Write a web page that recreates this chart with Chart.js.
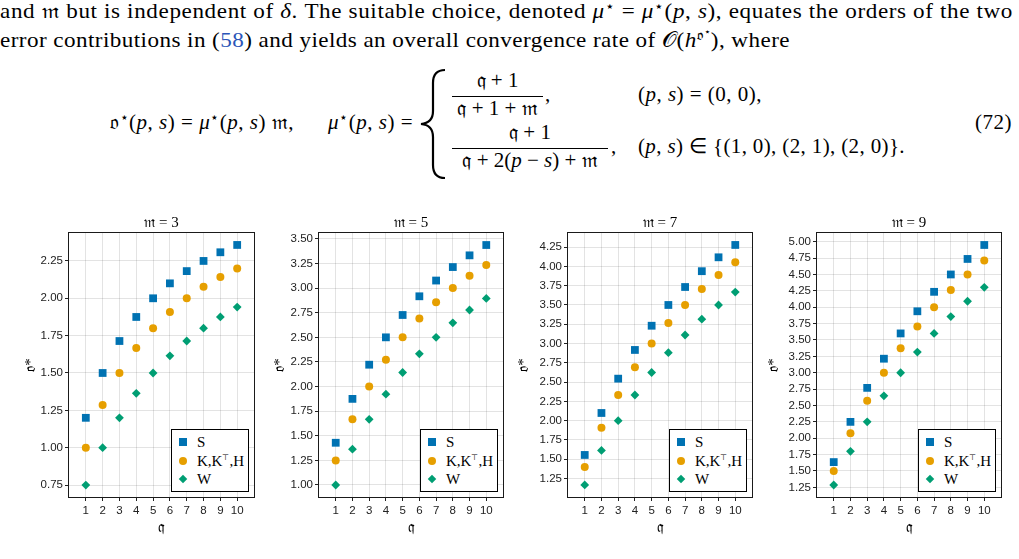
<!DOCTYPE html>
<html>
<head>
<meta charset="utf-8">
<script src="https://cdn.jsdelivr.net/npm/chart.js@4.4.1/dist/chart.umd.min.js"></script>
<style>
  html, body { margin: 0; padding: 0; background: #fff; }
  body { width: 1019px; height: 559px; position: relative; overflow: hidden; }
  .t { position: absolute; white-space: nowrap; font-family: "Liberation Serif", serif; font-size: 21px; line-height: 24px; color: #000; transform-origin: 0 0; }
  .t i { font-style: italic; }
  .t sup { font-size: 0.68em; line-height: 0; vertical-align: 0.5em; }
  .link { color: #2b55b8; }
  .bar { position: absolute; height: 1px; background: #000; }
  canvas.c { position: absolute; }
  .legend { position: absolute; box-sizing: border-box; width: 78px; height: 63px; border: 1px solid #000; background: #fff; font-family: "Liberation Serif", serif; font-size: 15px; color: #000; }
  .legend .row { position: absolute; left: 25px; height: 18px; line-height: 18px; white-space: nowrap; }
  .legend .row sup { font-size: 0.55em; line-height: 0; vertical-align: 0.7em; }
  .legend .mk { position: absolute; }
  .mk.rect { width: 8px; height: 8px; }
  .mk.circle { width: 8px; height: 8px; border-radius: 50%; }
  .mk.rectRot { width: 6px; height: 6px; transform: rotate(45deg); }
</style>
</head>
<body>

<!-- running text -->
<div class="t" data-x="0" data-b="18" data-w="1013" data-sx="1.1">and 𝔪 but is independent of <i>δ</i>. The suitable choice, denoted <i>μ</i><sup>⋆</sup> = <i>μ</i><sup>⋆</sup>(<i>p</i>, <i>s</i>), equates the orders of the two</div>
<div class="t" data-x="0" data-b="47" data-w="790" data-sx="1.1">error contributions in (<span class="link">58</span>) and yields an overall convergence rate of 𝒪(<i>h</i><sup>𝔬<sup>⋆</sup></sup>), where</div>

<!-- equation (72) -->
<div class="t" data-x="110" data-b="129" data-w="303">𝔬<sup>⋆</sup>(<i>p</i>, <i>s</i>) = <i>μ</i><sup>⋆</sup>(<i>p</i>, <i>s</i>) 𝔪,<span style="display:inline-block;width:34px"></span><i>μ</i><sup>⋆</sup>(<i>p</i>, <i>s</i>) =</div>
<svg style="position:absolute;left:0;top:0" width="1019" height="200">
  <path d="M445,70 Q433,70 433,83 L433,111 Q433,123 421,124 Q433,125 433,137 L433,165 Q433,178 445,178" fill="none" stroke="#000" stroke-width="2.2"/>
</svg>
<div class="t" data-c="497.5" data-b="87">𝔮 + 1</div>
<div class="bar" style="left:452px;top:96px;width:91px"></div>
<div class="t" data-c="497.5" data-b="115">𝔮 + 1 + 𝔪</div>
<div class="t" data-x="545" data-b="101">,</div>
<div class="t" data-c="530" data-b="139">𝔮 + 1</div>
<div class="bar" style="left:452px;top:148px;width:156px"></div>
<div class="t" data-c="530" data-b="167">𝔮 + 2(<i>p</i> − <i>s</i>) + 𝔪</div>
<div class="t" data-x="611" data-b="153">,</div>
<div class="t" data-x="638" data-b="101" data-w="124">(<i>p</i>, <i>s</i>) = (0, 0),</div>
<div class="t" data-x="638" data-b="153" data-w="267">(<i>p</i>, <i>s</i>) ∈ {(1, 0), (2, 1), (2, 0)}.</div>
<div class="t" data-x="975" data-b="129" data-w="37">(72)</div>

<script>
// q on the x axis, one panel per m
const qValues = [1, 2, 3, 4, 5, 6, 7, 8, 9, 10];
const mValues = [3, 5, 7, 9];
const seriesNames = ['S', 'K,K⊤,H', 'W'];

// o*
const sM3 = [1.200, 1.500, 1.714, 1.875, 2.000, 2.100, 2.182, 2.250, 2.308, 2.357];
const kM3 = [1.000, 1.286, 1.500, 1.667, 1.800, 1.909, 2.000, 2.077, 2.143, 2.200];
const wM3 = [0.750, 1.000, 1.200, 1.364, 1.500, 1.615, 1.714, 1.800, 1.875, 1.941];

const sM5 = [1.429, 1.875, 2.222, 2.500, 2.727, 2.917, 3.077, 3.214, 3.333, 3.438];
const kM5 = [1.250, 1.667, 2.000, 2.273, 2.500, 2.692, 2.857, 3.000, 3.125, 3.235];
const wM5 = [1.000, 1.364, 1.667, 1.923, 2.143, 2.333, 2.500, 2.647, 2.778, 2.895];

const sM7 = [1.556, 2.100, 2.545, 2.917, 3.231, 3.500, 3.733, 3.938, 4.118, 4.278];
const kM7 = [1.400, 1.909, 2.333, 2.692, 3.000, 3.267, 3.500, 3.706, 3.889, 4.053];
const wM7 = [1.167, 1.615, 2.000, 2.333, 2.625, 2.882, 3.111, 3.316, 3.500, 3.667];

const sM9 = [1.636, 2.250, 2.769, 3.214, 3.600, 3.938, 4.235, 4.500, 4.737, 4.950];
const kM9 = [1.500, 2.077, 2.571, 3.000, 3.375, 3.706, 4.000, 4.263, 4.500, 4.714];
const wM9 = [1.286, 1.800, 2.250, 2.647, 3.000, 3.316, 3.600, 3.857, 4.091, 4.304];

// tick labels and axis limits
const xTicks = [1, 2, 3, 4, 5, 6, 7, 8, 9, 10];
const xRange = [0, 11];
const yTicksM3 = [0.75, 1.00, 1.25, 1.50, 1.75, 2.00, 2.25];
const yTicksM5 = [1.00, 1.25, 1.50, 1.75, 2.00, 2.25, 2.50, 2.75, 3.00, 3.25, 3.50];
const yTicksM7 = [1.25, 1.50, 1.75, 2.00, 2.25, 2.50, 2.75, 3.00, 3.25, 3.50, 3.75, 4.00, 4.25];
const yTicksM9 = [1.25, 1.50, 1.75, 2.00, 2.25, 2.50, 2.75, 3.00, 3.25, 3.50, 3.75, 4.00, 4.25, 4.50, 4.75, 5.00];
const yRangeM3 = [0.670, 2.437];
const yRangeM5 = [0.878, 3.560];
const yRangeM7 = [1.011, 4.433];
const yRangeM9 = [1.103, 5.133];

const panels = [
  { series: [sM3, kM3, wM3], yTicks: yTicksM3, yRange: yRangeM3 },
  { series: [sM5, kM5, wM5], yTicks: yTicksM5, yRange: yRangeM5 },
  { series: [sM7, kM7, wM7], yTicks: yTicksM7, yRange: yRangeM7 },
  { series: [sM9, kM9, wM9], yTicks: yTicksM9, yRange: yRangeM9 }
];

// look
const seriesColors = ['#0072B2', '#E69F00', '#009E73'];
const markerStyles = ['rect', 'circle', 'rectRot'];
const markerRadius = [5.5, 4, 4.4];
const serif = '"Liberation Serif", serif';
const sans = '"Liberation Sans", Arial, sans-serif';
const plotLeft = [69, 319, 568, 817];
const plotRight = [254, 503, 752, 1001];
const yTitleX = [31, 280, 524, 774];
const top0 = 205, canvasH = 345, yAxisW = 55, padR = 10;

// put the text pieces on their baselines; widen to the measured widths
document.querySelectorAll('.t').forEach(el => {
  const probe = document.createElement('span');
  probe.style.cssText = 'display:inline-block;width:0;height:0;vertical-align:baseline';
  el.appendChild(probe);
  el.style.top = '0px';
  el.style.left = '0px';
  const base = probe.getBoundingClientRect().top - el.getBoundingClientRect().top;
  const sx = el.dataset.sx ? parseFloat(el.dataset.sx) : 1;
  if (el.dataset.w) {
    const target = parseFloat(el.dataset.w) / sx;
    const n = [...el.textContent].length;
    let ls = 0;
    for (let k = 0; k < 3; k++) {
      const w = el.getBoundingClientRect().width;
      ls += (target - w) / n;
      el.style.letterSpacing = ls + 'px';
    }
  }
  const w = el.getBoundingClientRect().width;
  el.style.top = (parseFloat(el.dataset.b) - base) + 'px';
  if (el.dataset.c) el.style.left = (parseFloat(el.dataset.c) - w / 2) + 'px';
  else el.style.left = el.dataset.x + 'px';
  if (sx !== 1) el.style.transform = 'scaleX(' + sx + ')';
});

// box round the plot area
const framePlugin = {
  id: 'frame',
  beforeDatasetsDraw(chart) {
    const { ctx, chartArea: a } = chart;
    ctx.save();
    ctx.strokeStyle = '#1a1a1a';
    ctx.lineWidth = 1;
    ctx.strokeRect(Math.round(a.left) - 0.5, Math.round(a.top) - 0.5,
      Math.round(a.right - a.left) + 1, Math.round(a.bottom - a.top) + 1);
    ctx.restore();
  }
};

function addLegend(chart, left, top) {
  const a = chart.chartArea;
  const box = document.createElement('div');
  box.className = 'legend';
  box.style.left = (left + a.right - 5 - 78) + 'px';
  box.style.top = (top + a.bottom - 5 - 63) + 'px';
  chart.data.datasets.forEach((ds, i) => {
    const cy = 12 + i * 18.5;
    const mk = document.createElement('div');
    mk.className = 'mk ' + markerStyles[i];
    mk.style.background = seriesColors[i];
    const sz = markerStyles[i] === 'rectRot' ? 6 : 8;
    mk.style.left = (11 - sz / 2) + 'px';
    mk.style.top = (cy - sz / 2) + 'px';
    box.appendChild(mk);
    const row = document.createElement('div');
    row.className = 'row';
    row.style.top = (cy - 9) + 'px';
    row.innerHTML = ds.label.replace('⊤', '<sup>⊤</sup>');
    box.appendChild(row);
  });
  document.body.appendChild(box);
}

panels.forEach((p, n) => {
  const canvas = document.createElement('canvas');
  canvas.className = 'c';
  const left = plotLeft[n] - yAxisW;
  canvas.width = plotRight[n] - plotLeft[n] + yAxisW + padR;
  canvas.height = canvasH;
  canvas.style.left = left + 'px';
  canvas.style.top = top0 + 'px';
  document.body.appendChild(canvas);

  const chart = new Chart(canvas, {
    type: 'scatter',
    data: {
      datasets: p.series.map((vals, i) => ({
        label: seriesNames[i],
        data: qValues.map((q, j) => ({ x: q, y: vals[j] })),
        pointStyle: markerStyles[i],
        pointRadius: markerRadius[i],
        backgroundColor: seriesColors[i],
        borderWidth: 0
      }))
    },
    options: {
      responsive: false,
      animation: false,
      events: [],
      layout: { padding: { left: 0, right: padR, top: 0, bottom: 0 } },
      plugins: {
        legend: { display: false },
        tooltip: { enabled: false },
        title: {
          display: true,
          fullSize: false,
          text: '𝔪 = ' + mValues[n],
          color: '#000',
          font: { family: serif, size: 15, weight: 'normal' },
          padding: { top: 9, bottom: 1 }
        }
      },
      scales: {
        x: {
          type: 'linear',
          min: xRange[0], max: xRange[1],
          afterBuildTicks: s => { s.ticks = xTicks.map(v => ({ value: v })); },
          afterFit: s => { s.height = canvasH - (497 - top0); },
          border: { display: false },
          grid: { color: 'rgba(0,0,0,0.11)', tickColor: '#222', tickLength: 4 },
          ticks: { color: '#222', font: { family: sans, size: 11.5 }, padding: 3, autoSkip: false, maxRotation: 0 },
          title: { display: true, text: '𝔮', color: '#000', font: { family: serif, size: 15 }, padding: { top: 0, bottom: 13 } }
        },
        y: {
          type: 'linear',
          min: p.yRange[0], max: p.yRange[1],
          afterBuildTicks: s => { s.ticks = p.yTicks.map(v => ({ value: v })); },
          afterFit: s => { s.width = yAxisW; },
          border: { display: false },
          grid: { color: 'rgba(0,0,0,0.11)', tickColor: '#222', tickLength: 4 },
          ticks: { color: '#222', font: { family: sans, size: 11.5 }, padding: 2, callback: v => v.toFixed(2) },
          title: { display: true, text: '𝔬*', color: '#000', font: { family: serif, size: 15 }, padding: { top: yTitleX[n] - left - 9, bottom: 0 } }
        }
      }
    },
    plugins: [framePlugin]
  });
  addLegend(chart, left, top0);
});
</script>
</body>
</html>
